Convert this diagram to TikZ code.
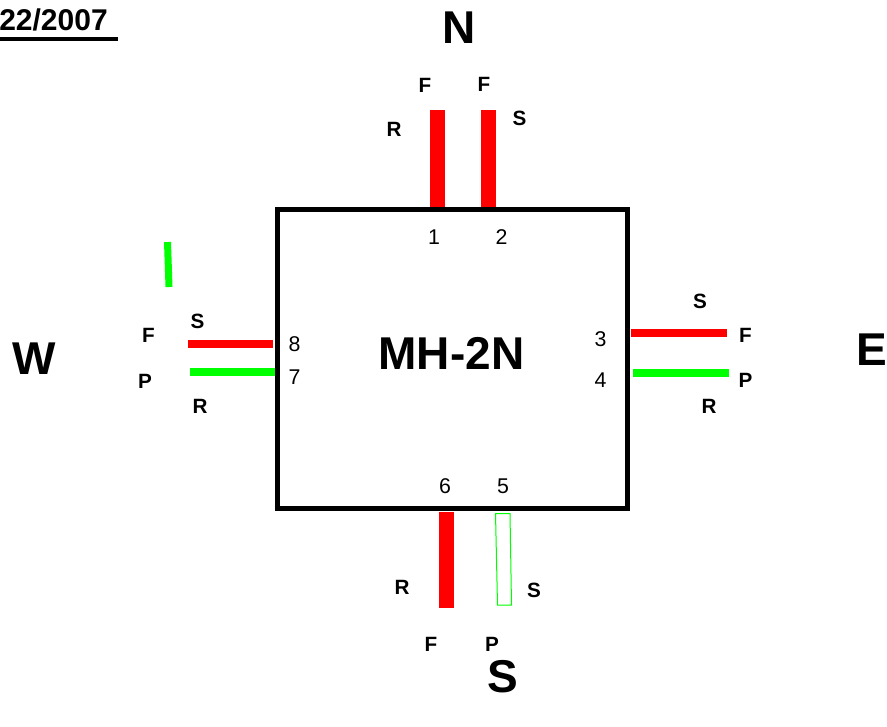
\documentclass[tikz,border=0pt]{standalone}
\usepackage{fontspec}
\setmainfont{Liberation Sans}
\definecolor{gr}{RGB}{0,255,0}
\definecolor{rd}{RGB}{255,0,0}
\newcommand{\pxfont}[1]{\fontsize{#1*0.75}{#1*0.9}\selectfont}
\tikzset{
  x=0.75pt,y=-0.75pt,
  big/.style={font=\fontsize{34.5pt}{40pt}\selectfont\bfseries,inner sep=0pt},
  lab/.style={font=\fontsize{15.5pt}{18pt}\selectfont\bfseries,inner sep=0pt},
  num/.style={font=\fontsize{16pt}{18pt}\selectfont,inner sep=0pt},
  thick stub/.style={line width=11.25pt,rd},
  redstub/.style={line width=6pt,rd},
  greenstub/.style={line width=6pt,gr},
}
\begin{document}
\begin{tikzpicture}
\useasboundingbox (0,0) rectangle (887,726);
\clip (0,0) rectangle (887,726);
% Date
\node[anchor=base east,inner sep=0pt,font=\fontsize{22.5pt}{26pt}\selectfont\bfseries] (date) at (108,30) {22/2007};
\coordinate (ul1) at (-5,39); \coordinate (ul2) at (117.5,39);
\draw[line width=3pt] (ul1) -- (ul2);
% Box
\node[draw,line width=3.75pt,minimum width=266.25pt-3.75pt,minimum height=228pt-3.75pt,inner sep=0pt,outer sep=0pt,anchor=north west] (box) at (277,209) {};
\node[font=\fontsize{34.5pt}{40pt}\selectfont\bfseries,inner sep=0pt] (title) at (451.5,353) {MH-2N};
% Compass
\node[big] (N) at (459,28) {N};
\node[big] (S) at (502.5,677) {S};
\node[big] (W) at (34,359) {W};
\node[big] (E) at (872,350) {E};
% North stubs
\coordinate (n1a) at (437,110); \coordinate (n1b) at (437,207);
\coordinate (n2a) at (488,110); \coordinate (n2b) at (488,207);
\draw[thick stub] (n1a) -- (n1b);
\draw[thick stub] (n2a) -- (n2b);
% South stubs
\coordinate (s6a) at (446.5,512); \coordinate (s6b) at (446.5,608);
\draw[thick stub] (s6a) -- (s6b);
\coordinate (s5a) at (495.5,513.5); \coordinate (s5b) at (510,513.5);
\coordinate (s5c) at (511.5,605); \coordinate (s5d) at (497.5,605);
\draw[gr,line width=0.75pt] (s5a) -- (s5b) -- (s5c) -- (s5d) -- cycle;
% West stubs
\coordinate (w8a) at (188,343.5); \coordinate (w8b) at (273,343.5);
\coordinate (w7a) at (190,372); \coordinate (w7b) at (275,372);
\draw[redstub] (w8a) -- (w8b);
\draw[greenstub] (w7a) -- (w7b);
\coordinate (ga) at (167.5,242); \coordinate (gb) at (169,287);
\draw[gr,line width=5.25pt] (ga) -- (gb);
% East stubs
\coordinate (e3a) at (631,333); \coordinate (e3b) at (727,333);
\coordinate (e4a) at (633,373); \coordinate (e4b) at (729,373);
\draw[redstub] (e3a) -- (e3b);
\draw[greenstub] (e4a) -- (e4b);
% Numbers
\node[num] (n1) at (434,237) {1};
\node[num] (n2) at (501.5,237) {2};
\node[num] (n3) at (600.5,339) {3};
\node[num] (n4) at (600.5,380) {4};
\node[num] (n5) at (503,486) {5};
\node[num] (n6) at (445,486) {6};
\node[num] (n7) at (294.5,377) {7};
\node[num] (n8) at (294.5,344) {8};
% Letters
\node[lab] (a1) at (425,85) {F};
\node[lab] (a2) at (484,84) {F};
\node[lab] (a3) at (394,129) {R};
\node[lab] (a4) at (519.5,118) {S};
\node[lab] (a5) at (148.5,335) {F};
\node[lab] (a6) at (197.5,321) {S};
\node[lab] (a7) at (145,381) {P};
\node[lab] (a8) at (200,406) {R};
\node[lab] (a9) at (700,301) {S};
\node[lab] (a10) at (745.5,335) {F};
\node[lab] (a11) at (745.5,380) {P};
\node[lab] (a12) at (709,406) {R};
\node[lab] (a13) at (402,587) {R};
\node[lab] (a14) at (534,590) {S};
\node[lab] (a15) at (431,644) {F};
\node[lab] (a16) at (492,644) {P};
\end{tikzpicture}
\end{document}
